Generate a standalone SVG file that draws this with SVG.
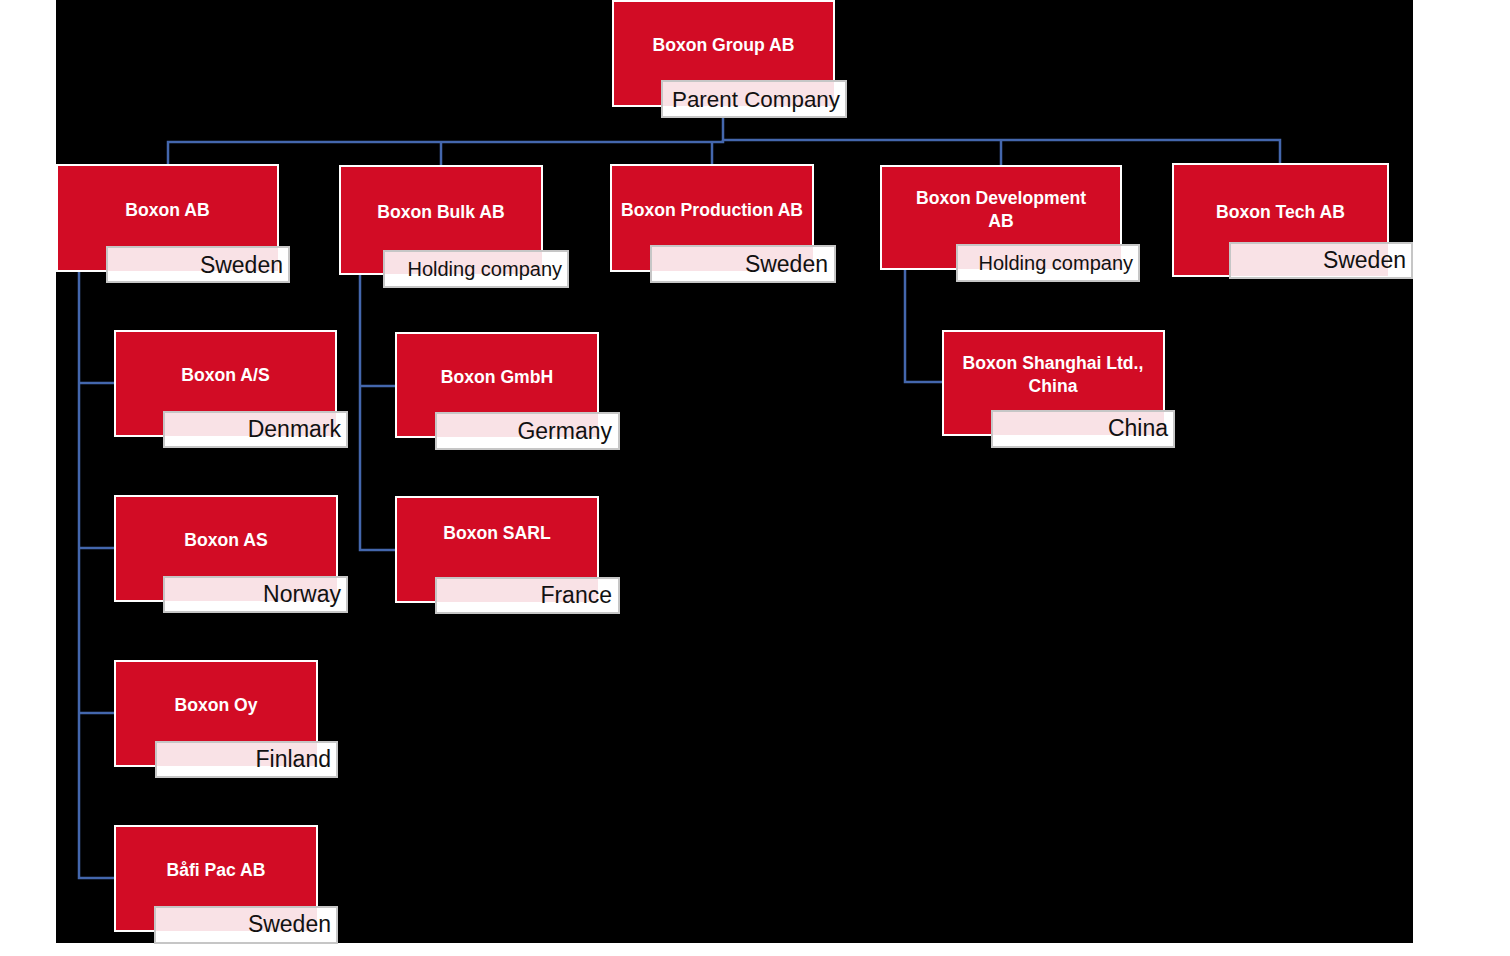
<svg xmlns="http://www.w3.org/2000/svg" width="1510" height="956" viewBox="0 0 1510 956">
<style>
.box{fill:#d20c25;stroke:#ffffff;stroke-width:2}
.lbl{fill:#ffffff;stroke:#c6c6c6;stroke-width:2}
.tint{fill:#f9e2e6}
.title{font-family:"Liberation Sans",Arial,sans-serif;font-weight:bold;font-size:17.6px;fill:#ffffff;text-anchor:middle}
.sub{font-family:"Liberation Sans",Arial,sans-serif;font-size:23px;fill:#111111;text-anchor:end}
.sub2{font-family:"Liberation Sans",Arial,sans-serif;font-size:20px;fill:#111111;text-anchor:end}
.sub3{font-family:"Liberation Sans",Arial,sans-serif;font-size:22.4px;fill:#111111;text-anchor:end}
.conn{fill:none;stroke:#4467ad;stroke-width:2.5}
</style>
<rect x="0" y="0" width="1510" height="956" fill="#ffffff"/>
<rect x="56" y="0" width="1357" height="943" fill="#000000"/>
<g id="connectors">
<path class="conn" d="M723 117 V140 H1280 V164"/>
<path class="conn" d="M723 140 V142 H168 V165"/>
<path class="conn" d="M441 142 V166"/>
<path class="conn" d="M712 142 V165"/>
<path class="conn" d="M1001 140 V166"/>
<path class="conn" d="M79 271 V878 H115"/>
<path class="conn" d="M79 383 H115"/>
<path class="conn" d="M79 548 H115"/>
<path class="conn" d="M79 713 H115"/>
<path class="conn" d="M360 274 V550 H396"/>
<path class="conn" d="M360 386 H396"/>
<path class="conn" d="M905 269 V382 H943"/>
</g>
<g id="boxon-group-ab">
<rect class="box" x="613" y="1" width="221" height="105"/>
<text class="title" x="723.5" y="51">Boxon Group AB</text>
<rect class="lbl" x="662" y="81" width="184" height="36"/>
<rect class="tint" x="663" y="82" width="171" height="24"/>
<text class="sub3" x="840" y="107">Parent Company</text>
</g>
<g id="boxon-ab">
<rect class="box" x="57" y="165" width="221" height="106"/>
<text class="title" x="167.5" y="216">Boxon AB</text>
<rect class="lbl" x="107" y="247" width="182" height="35"/>
<rect class="tint" x="108" y="248" width="170" height="23"/>
<text class="sub" x="283" y="273">Sweden</text>
</g>
<g id="boxon-bulk-ab">
<rect class="box" x="340" y="166" width="202" height="108"/>
<text class="title" x="441" y="218">Boxon Bulk AB</text>
<rect class="lbl" x="384" y="251" width="184" height="36"/>
<rect class="tint" x="385" y="252" width="157" height="22"/>
<text class="sub2" x="562" y="276">Holding company</text>
</g>
<g id="boxon-production-ab">
<rect class="box" x="611" y="165" width="202" height="106"/>
<text class="title" x="712" y="216">Boxon Production AB</text>
<rect class="lbl" x="651" y="246" width="184" height="36"/>
<rect class="tint" x="652" y="247" width="161" height="24"/>
<text class="sub" x="828" y="272">Sweden</text>
</g>
<g id="boxon-development-ab">
<rect class="box" x="881" y="166" width="240" height="103"/>
<text class="title" x="1001" y="204">Boxon Development</text>
<text class="title" x="1001" y="227">AB</text>
<rect class="lbl" x="957" y="245" width="182" height="36"/>
<rect class="tint" x="958" y="246" width="163" height="23"/>
<text class="sub2" x="1133" y="270">Holding company</text>
</g>
<g id="boxon-tech-ab">
<rect class="box" x="1173" y="164" width="215" height="112"/>
<text class="title" x="1280.5" y="218">Boxon Tech AB</text>
<rect class="lbl" x="1230" y="243" width="182" height="35"/>
<rect class="tint" x="1231" y="244" width="157" height="32"/>
<text class="sub" x="1406" y="268">Sweden</text>
</g>
<g id="boxon-a-s">
<rect class="box" x="115" y="331" width="221" height="105"/>
<text class="title" x="225.5" y="381">Boxon A/S</text>
<rect class="lbl" x="164" y="412" width="183" height="35"/>
<rect class="tint" x="165" y="413" width="171" height="23"/>
<text class="sub" x="341" y="437">Denmark</text>
</g>
<g id="boxon-as">
<rect class="box" x="115" y="496" width="222" height="105"/>
<text class="title" x="226" y="546">Boxon AS</text>
<rect class="lbl" x="164" y="577" width="183" height="35"/>
<rect class="tint" x="165" y="578" width="172" height="23"/>
<text class="sub" x="341" y="602">Norway</text>
</g>
<g id="boxon-oy">
<rect class="box" x="115" y="661" width="202" height="105"/>
<text class="title" x="216" y="711">Boxon Oy</text>
<rect class="lbl" x="156" y="742" width="181" height="35"/>
<rect class="tint" x="157" y="743" width="160" height="23"/>
<text class="sub" x="331" y="767">Finland</text>
</g>
<g id="bafi-pac-ab">
<rect class="box" x="115" y="826" width="202" height="105"/>
<text class="title" x="216" y="876">Båfi Pac AB</text>
<rect class="lbl" x="155" y="907" width="182" height="36"/>
<rect class="tint" x="156" y="908" width="161" height="23"/>
<text class="sub" x="331" y="932">Sweden</text>
</g>
<g id="boxon-gmbh">
<rect class="box" x="396" y="333" width="202" height="104"/>
<text class="title" x="497" y="383">Boxon GmbH</text>
<rect class="lbl" x="436" y="413" width="183" height="36"/>
<rect class="tint" x="437" y="414" width="161" height="23"/>
<text class="sub" x="612" y="439">Germany</text>
</g>
<g id="boxon-sarl">
<rect class="box" x="396" y="497" width="202" height="105"/>
<text class="title" x="497" y="539">Boxon SARL</text>
<rect class="lbl" x="436" y="578" width="183" height="35"/>
<rect class="tint" x="437" y="579" width="161" height="23"/>
<text class="sub" x="612" y="603">France</text>
</g>
<g id="boxon-shanghai">
<rect class="box" x="943" y="331" width="221" height="104"/>
<text class="title" x="1053" y="369">Boxon Shanghai Ltd.,</text>
<text class="title" x="1053" y="392">China</text>
<rect class="lbl" x="992" y="411" width="182" height="36"/>
<rect class="tint" x="993" y="412" width="171" height="23"/>
<text class="sub" x="1168" y="436">China</text>
</g>
</svg>
